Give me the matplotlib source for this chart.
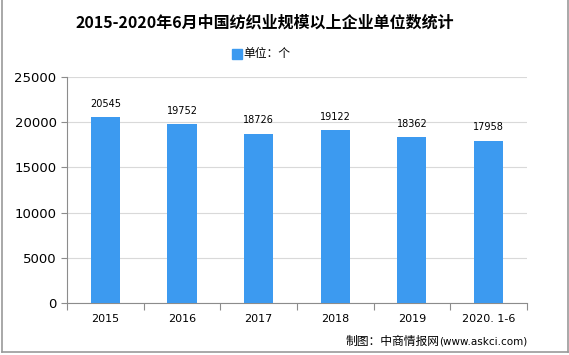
import matplotlib.pyplot as plt
from matplotlib.lines import Line2D
import numpy as np

plt.rcParams['font.family'] = ['Noto Sans CJK SC', 'DejaVu Sans']

# data
years = ['2015', '2016', '2017', '2018', '2019', '2020. 1-6']
counts = [20545, 19752, 18726, 19122, 18362, 17958]

bar_color = '#3C9AF0'
axis_color = '#8c8c8c'

fig = plt.figure(figsize=(5.69, 3.55), dpi=100)
ax = fig.add_axes([0.1178, 0.1465, 0.8082, 0.6365])

x = np.arange(len(years))
ax.bar(x, counts, width=0.38, color=bar_color, zorder=3)

# value labels
for xi, v in zip(x, counts):
    ax.annotate(str(v), (xi, v), xytext=(0, 6), textcoords='offset points',
                ha='center', va='bottom', fontsize=7, family='DejaVu Sans')

ax.set_xlim(-0.5, len(years) - 0.5)
ax.set_ylim(0, 25000)
ax.set_yticks(np.arange(0, 25001, 5000))
ax.tick_params(axis='y', labelsize=9.5, colors=axis_color, labelcolor='black',
               length=4, width=0.8)
for lab in ax.get_yticklabels():
    lab.set_family('DejaVu Sans')

ax.set_xticks(x)
ax.set_xticklabels(years, fontsize=8, family='DejaVu Sans')
ax.set_xticks(np.arange(-0.5, len(years), 1.0), minor=True)
ax.tick_params(axis='x', which='major', length=0, pad=8)
ax.tick_params(axis='x', which='minor', length=5, width=0.8, colors=axis_color)

ax.yaxis.grid(True, color='#d9d9d9', linewidth=0.8, zorder=0)
ax.set_axisbelow(True)
for side in ['top', 'right']:
    ax.spines[side].set_visible(False)
for side in ['left', 'bottom']:
    ax.spines[side].set_color(axis_color)
    ax.spines[side].set_linewidth(0.8)

# title and legend
fig.text(0.466, 0.937, '2015-2020年6月中国纺织业规模以上企业单位数统计',
         ha='center', va='center', fontsize=11.5, fontweight='bold')
fig.patches.append(plt.Rectangle((0.408, 0.833), 0.0175, 0.028, color=bar_color,
                                 transform=fig.transFigure, figure=fig))
fig.text(0.428, 0.848, '单位：个', ha='left', va='center', fontsize=8.5)

# source
url = fig.text(0.927, 0.037, '(www.askci.com)', ha='right', va='center',
               fontsize=7.5, family='DejaVu Sans')
fig.canvas.draw()
bb = url.get_window_extent().transformed(fig.transFigure.inverted())
fig.text(bb.x0, 0.037, '制图：中商情报网', ha='right', va='center', fontsize=8.5)

# frame lines
fig.add_artist(Line2D([0.003, 0.003], [0.008, 1.0], color='#999999', lw=1.2))
fig.add_artist(Line2D([0.998, 0.998], [0.008, 1.0], color='#999999', lw=1.2))
fig.add_artist(Line2D([0.003, 0.998], [0.008, 0.008], color='#999999', lw=1.2))

fig.savefig('out.png', dpi=100)
